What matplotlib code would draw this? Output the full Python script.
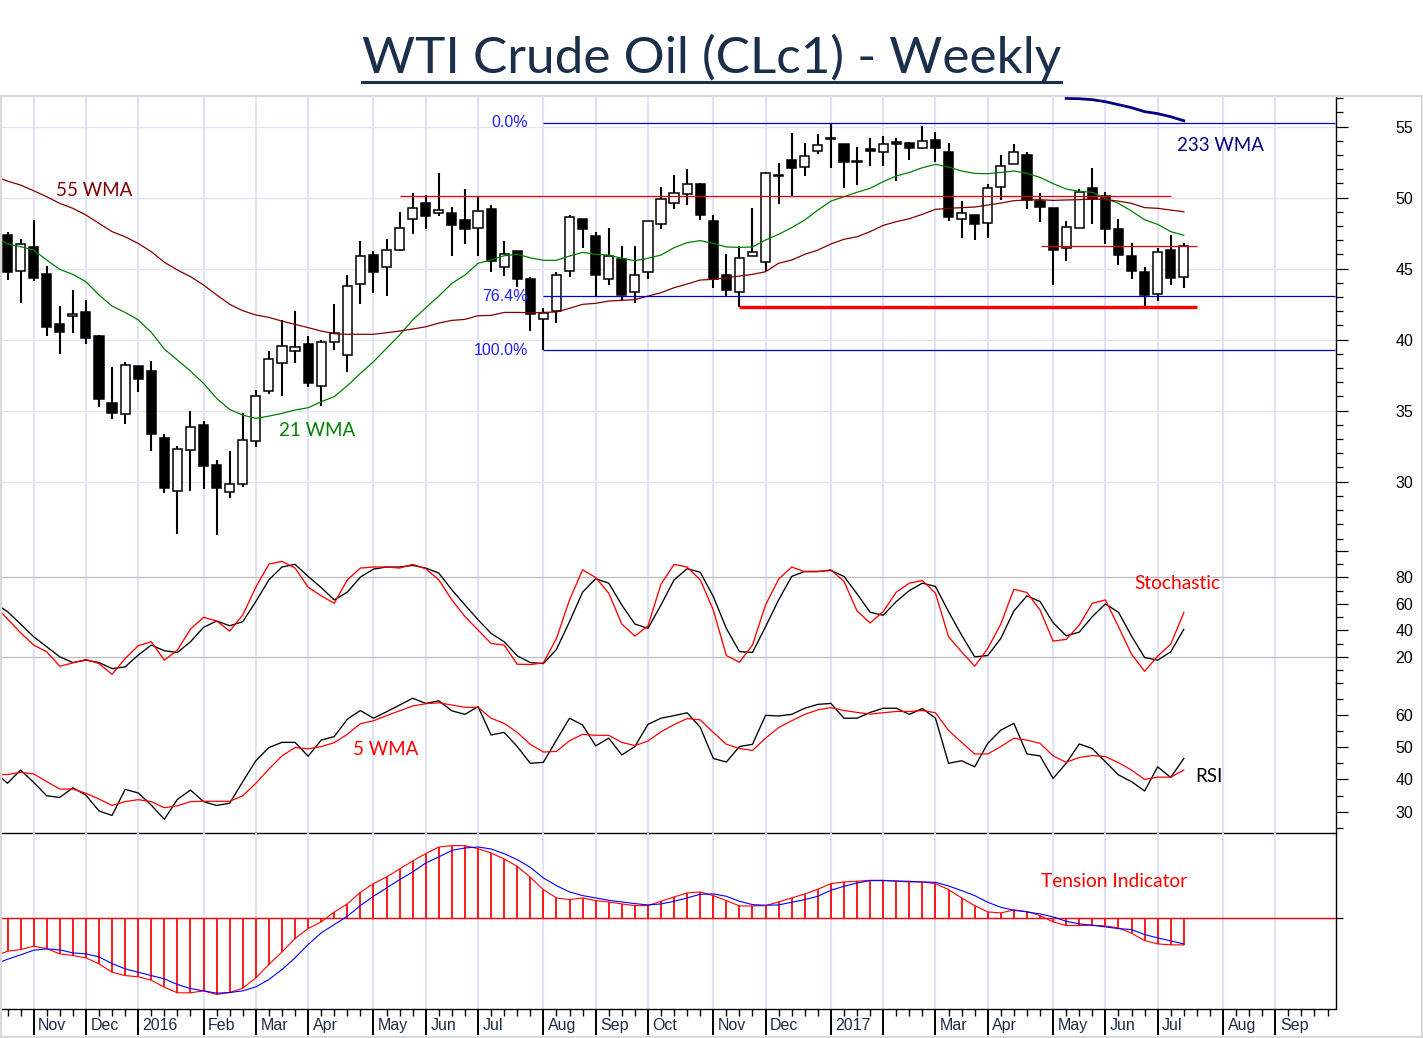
import numpy as np
import matplotlib
matplotlib.use('Agg')
import matplotlib.pyplot as plt
from matplotlib.patches import Rectangle
from matplotlib.lines import Line2D

# candles, one per week
opens = [47.37,44.81,46.50,44.60,41.08,41.64,41.92,40.26,35.52,34.74,38.12,37.79,33.05,29.37,32.21,33.97,31.15,29.25,29.81,32.84,
         36.36,38.33,39.18,39.67,36.71,39.81,38.90,43.90,45.94,45.09,46.29,48.47,49.60,48.94,48.90,48.40,47.84,49.18,45.09,46.22,
         44.27,41.43,42.04,44.81,48.47,47.28,44.25,45.70,43.33,44.74,48.12,49.60,50.28,50.96,48.33,44.53,43.33,45.91,45.45,51.57,
         52.63,52.14,53.26,54.23,53.76,52.56,53.40,53.19,53.94,53.83,53.47,54.04,53.19,48.47,48.76,48.19,50.73,52.35,52.98,49.76,
         49.25,46.43,47.89,50.66,50.09,47.77,45.87,44.74,43.19,46.29,44.44]
highs = [47.56,47.07,48.40,45.16,42.37,43.47,42.77,40.31,38.05,38.40,38.17,38.47,33.33,32.49,34.95,34.25,31.50,32.14,34.81,36.43,
         39.18,41.36,41.99,40.23,39.95,42.49,44.53,46.92,46.22,47.07,48.97,50.31,50.16,51.71,49.32,50.59,50.07,49.46,46.98,46.22,
         44.44,42.21,44.79,48.76,48.47,47.56,47.84,46.57,46.57,48.38,50.73,51.57,51.99,51.01,48.76,46.01,46.57,49.25,51.83,52.42,
         54.53,53.83,54.46,55.26,53.80,53.55,54.18,54.32,54.18,53.94,55.05,54.60,53.83,49.74,48.76,50.94,52.98,53.76,53.19,50.31,
         49.27,48.33,50.59,52.07,50.38,48.47,46.78,45.09,46.43,47.35,46.78]
lows = [44.20,42.61,44.15,40.28,39.01,40.49,39.72,35.28,34.44,34.08,36.34,32.18,29.23,26.34,29.37,29.51,26.27,28.87,29.65,32.47,
        36.20,36.06,38.38,36.69,35.35,39.30,37.75,42.53,43.31,43.10,46.22,47.47,47.82,48.73,45.91,46.76,45.91,44.79,44.51,43.73,
        40.63,39.25,41.20,44.44,46.48,43.05,43.87,42.79,42.61,44.25,47.82,49.23,49.51,48.45,43.66,43.05,42.28,45.91,44.86,49.58,
        50.02,51.55,53.10,52.11,50.70,50.92,52.25,52.25,51.20,52.68,53.40,52.51,48.38,47.18,47.04,47.18,49.86,52.35,49.23,48.31,
        43.87,45.56,47.84,48.17,46.76,45.28,44.30,42.39,42.75,43.87,43.66]
closes = [44.79,46.71,44.37,40.91,40.56,41.78,40.14,35.85,34.86,38.19,37.25,33.38,29.58,32.28,33.83,31.13,29.58,29.81,32.96,36.06,
          38.61,39.53,39.51,36.97,39.81,40.49,43.76,45.91,44.79,46.29,47.84,49.30,48.73,49.16,48.10,47.82,49.04,45.56,46.01,44.30,
          41.78,41.90,44.53,48.62,47.82,44.58,45.91,43.17,44.53,48.33,49.88,50.35,50.94,48.80,44.25,43.52,45.73,46.15,51.71,51.50,
          52.07,52.96,53.73,54.13,52.48,52.48,53.29,53.80,53.80,53.47,54.01,53.47,48.66,48.90,48.12,50.66,52.25,53.19,49.81,49.37,
          46.34,47.91,50.38,49.88,47.82,45.99,44.86,43.17,46.15,44.37,46.57]

# moving averages, first value is one week before the first candle
wma21 = [47.25,46.74,46.55,46.31,45.61,44.95,44.60,44.08,43.15,42.37,41.92,41.39,40.52,39.34,38.57,37.79,36.92,35.87,35.09,34.69,34.46,
         34.62,34.81,35.05,35.21,35.63,35.99,36.76,37.63,38.45,39.39,40.33,41.39,42.25,43.07,43.97,44.55,45.38,45.61,45.91,46.01,
         45.77,45.59,45.59,45.89,46.15,46.01,45.96,45.73,45.56,45.73,45.96,46.48,46.83,46.98,46.78,46.53,46.50,46.53,47.02,47.42,
         47.89,48.43,49.13,49.76,50.07,50.38,50.66,51.13,51.53,51.78,52.11,52.35,52.16,51.88,51.71,51.69,51.78,51.88,51.71,51.43,
         50.99,50.61,50.45,50.38,49.95,49.60,49.06,48.45,48.12,47.61,47.35]
wma55 = [51.48,51.17,50.89,50.49,50.07,49.60,49.25,48.78,48.19,47.61,47.25,46.78,46.20,45.45,44.91,44.44,43.85,43.15,42.49,42.04,41.74,
         41.57,41.31,41.08,40.85,40.61,40.42,40.38,40.38,40.38,40.49,40.61,40.75,40.91,41.17,41.36,41.43,41.69,41.71,41.92,41.92,
         41.90,41.92,41.95,42.21,42.49,42.56,42.72,42.77,42.82,43.07,43.31,43.66,43.92,44.20,44.25,44.37,44.48,44.60,44.79,45.38,
         45.61,46.01,46.31,46.74,47.07,47.25,47.61,48.05,48.31,48.52,48.83,49.18,49.25,49.30,49.34,49.48,49.62,49.79,49.84,49.86,
         49.81,49.84,49.86,49.91,49.86,49.76,49.60,49.30,49.25,49.13,49.01]
wma233_weeks = [81,82,83,84,85,86,87,88,89,90]
wma233 = [56.99,56.97,56.90,56.76,56.55,56.34,56.06,55.92,55.70,55.42]

# stochastic
stoch_red = [59.2,48.6,38.2,28.9,23.8,12.9,15.4,18.0,14.9,6.8,18.7,28.4,31.4,17.5,25.1,41.0,49.9,47.1,39.5,51.6,72.7,
             90.1,92.2,87.1,72.7,66.1,60.5,78.2,87.1,87.9,87.9,87.1,89.9,86.6,78.2,63.0,50.4,40.3,30.1,28.9,14.4,
             14.2,15.4,33.9,63.0,85.8,80.0,68.1,44.8,35.7,43.3,74.9,89.9,87.9,78.2,55.4,21.0,15.9,28.9,59.2,78.7,
             87.9,84.3,84.3,85.8,77.0,54.7,45.6,54.2,68.9,75.7,77.7,68.1,35.2,23.8,12.9,26.3,44.8,71.1,68.6,55.4,
             31.9,33.2,44.0,60.5,63.0,42.8,22.0,9.1,20.5,29.6,53.4]
stoch_black = [60.5,54.2,44.8,35.2,27.6,20.0,15.7,17.5,15.7,11.1,12.4,21.3,28.9,24.6,23.3,31.4,42.3,47.1,43.5,46.6,61.8,
               78.2,87.9,89.9,80.8,72.4,63.0,68.9,80.3,86.3,87.9,87.9,89.1,87.1,83.3,70.6,59.2,48.1,37.7,31.4,20.8,
               15.7,14.9,25.6,46.6,68.9,79.0,75.7,59.2,44.8,41.5,59.2,78.2,86.6,84.0,65.6,41.5,24.0,23.3,42.8,63.0,
               80.8,84.6,84.6,85.3,80.8,67.6,53.7,51.4,61.8,70.1,75.7,73.2,54.2,36.4,20.0,21.0,33.9,54.7,66.1,61.8,
               45.8,35.9,38.7,50.4,60.0,53.7,35.7,19.5,17.5,23.8,40.8]

# RSI and its 5 WMA
rsi = [42.4,38.8,42.9,39.1,34.9,34.4,37.4,35.1,30.2,28.8,36.9,35.8,32.0,27.6,33.8,36.7,33.1,31.9,32.6,39.3,45.8,
       49.9,51.5,51.5,47.2,52.2,53.3,58.7,61.4,59.0,61.0,63.1,65.2,63.6,64.4,61.3,60.2,62.6,53.8,54.6,50.2,
       45.0,45.3,52.2,59.0,56.9,50.4,52.8,47.6,50.2,57.1,59.0,59.8,60.7,56.2,46.5,45.4,50.2,50.9,59.9,59.7,
       60.2,62.1,63.3,63.6,59.0,59.0,60.8,62.1,62.1,60.2,62.0,59.0,45.0,45.8,43.9,51.2,55.3,57.4,47.9,47.3,
       40.3,45.0,51.0,49.6,45.5,41.4,39.3,36.4,43.9,40.6,46.5]
rsi_wma5 = [41.5,41.5,42.2,41.7,39.3,37.0,37.0,35.7,33.9,31.9,33.1,33.7,33.1,31.2,31.8,33.1,33.2,33.2,33.2,34.9,38.8,
            43.2,47.3,49.9,49.5,50.2,51.4,54.0,57.3,58.2,59.8,61.3,62.8,63.5,63.8,63.1,62.4,62.4,59.0,57.4,54.6,
            50.9,48.5,48.7,52.0,54.0,53.7,53.7,51.5,50.5,51.9,54.8,57.0,58.9,58.5,54.6,50.9,49.6,49.0,52.8,56.1,
            58.2,60.2,61.6,62.3,61.4,60.8,60.3,60.7,61.1,61.1,61.4,60.7,55.2,51.5,47.9,47.9,50.2,52.8,52.2,51.2,
            47.3,45.3,46.8,47.4,47.1,45.2,42.9,40.0,40.7,40.7,42.9]

# tension indicator (no scale on the chart, arbitrary units)
tension = [-115,-100,-95,-85,-92,-108,-113,-120,-138,-163,-173,-177,-187,-208,-225,-225,-219,-230,-224,-211,-180,
           -140,-102,-62,-32,-12,18,42,77,103,123,147,171,193,213,217,217,208,195,177,155,
           122,85,60,55,60,52,48,42,37,37,50,63,75,78,67,52,36,36,37,48,
           60,72,86,103,108,110,113,113,110,108,108,103,85,60,37,18,15,24,19,7,
           -12,-23,-23,-22,-24,-30,-46,-68,-78,-81,-81]
tension_signal = [-140,-124,-111,-97,-93,-96,-105,-108,-117,-137,-153,-163,-173,-183,-200,-212,-219,-226,-224,-219,-207,
                  -185,-155,-120,-80,-45,-20,5,37,65,90,115,138,165,183,203,210,213,207,193,175,
                  152,120,97,78,67,60,53,48,43,39,42,50,60,71,72,65,50,40,38,39,
                  47,55,65,83,95,105,112,112,111,110,108,107,96,82,67,47,32,23,18,12,
                  3,-10,-18,-22,-27,-32,-35,-50,-60,-69,-78]

# month labels on the week axis
month_weeks = [2,6,10,15,19,23,28,32,36,41,45,49,54,58,63,67,71,75,80,84,88,93,97]
month_labels = ['Nov','Dec','2016','Feb','Mar','Apr','May','Jun','Jul','Aug','Sep','Oct','Nov','Dec','2017','','Mar','Apr','May','Jun','Jul','Aug','Sep']

# drawn levels
fib_levels = [55.28, 43.05, 39.25]
fib_labels = ['0.0%', '76.4%', '100.0%']

W, H = 1423, 1038
GRID = '#e2e2f6'
TICK_FONT = 'Liberation Sans'
NOTE_FONT = 'Lato'

weeks = np.arange(len(opens))
line_weeks = np.arange(-1, len(opens))
xmin = (2 - 7.5) / 13.07
xmax = (1335.5 - 7.5) / 13.07


def pane(top, bottom):
    ax = fig.add_axes([2 / W, 1 - bottom / H, 1333.5 / W, (bottom - top) / H])
    ax.patch.set_visible(False)
    ax.set_xlim(xmin, xmax)
    for s in ['left', 'top', 'bottom']:
        ax.spines[s].set_visible(False)
    ax.spines['right'].set_linewidth(1.0)
    ax.set_xticks([])
    ax.yaxis.tick_right()
    for w in month_weeks:
        ax.axvline(w, color=GRID, lw=1.5, zorder=0)
    return ax


def right_ticks(ax, major, labels, minor):
    ax.set_yticks(major)
    ax.set_yticklabels(labels, fontfamily=TICK_FONT, fontsize=11.5, ha='center')
    ax.set_yticks(minor, minor=True)
    ax.tick_params(axis='y', which='major', direction='out', length=8.6, width=0.9, pad=41)
    ax.tick_params(axis='y', which='minor', direction='out', length=5, width=0.9)


fig = plt.figure(figsize=(W / 100, H / 100), dpi=100, facecolor='white')

# outer frame and title
fig.add_artist(Rectangle((1 / W, 1 - 1037 / H), 1421 / W, 941 / H, fill=False, edgecolor='#d9d9d9', lw=1.6,
                         transform=fig.transFigure))
fig.text(711.5 / W, 1 - 72.5 / H, 'WTI Crude Oil (CLc1) - Weekly', family=NOTE_FONT, fontsize=36.9, color='#1b2f4b',
         ha='center', va='baseline')
fig.add_artist(Line2D([362 / W, 1061 / W], [1 - 81.5 / H] * 2, color='#1b2f4b', lw=2.2, transform=fig.transFigure))

# price pane
ax1 = pane(97, 551)
ax1.set_ylim(25.12, 57.09)
for p in [30, 35, 40, 45, 50, 55]:
    ax1.axhline(p, color=GRID, lw=0.9, zorder=0)
right_ticks(ax1, [30, 35, 40, 45, 50, 55], ['30', '35', '40', '45', '50', '55'],
            [p for p in range(26, 58) if p % 5 != 0])

ax1.vlines(weeks, lows, highs, color='black', lw=1.5, zorder=2)
for w, o, c in zip(weeks, opens, closes):
    face = 'white' if c >= o else 'black'
    ax1.bar(w, abs(c - o), bottom=min(o, c), width=0.7, facecolor=face, edgecolor='black', lw=1.1, zorder=3)

ax1.plot(line_weeks, wma21, color='#008000', lw=0.9, zorder=4)
ax1.plot(line_weeks, wma55, color='#800000', lw=0.9, zorder=4)
ax1.plot(wma233_weeks, wma233, color='#000080', lw=2.0, zorder=4)

for level in fib_levels:
    ax1.hlines(level, 41, xmax, color='#0000d0', lw=0.9, zorder=5)
ax1.hlines(50.09, 30, 89, color='#e00000', lw=0.9, zorder=5)
ax1.hlines(46.57, 79.1, 91, color='#e00000', lw=0.9, zorder=5)
ax1.hlines(42.28, 56, 91, color='#ff0000', lw=2.4, zorder=5)

for level, label in zip(fib_levels, fib_labels):
    ax1.text(39.8, level, label, family=TICK_FONT, fontsize=11.5, color='#2020ff', ha='right', va='center', zorder=6)

ax1.text(3.7, 50.54, '55 WMA', family=NOTE_FONT, fontsize=13.5, color='#800000', va='center')
ax1.text(20.8, 33.62, '21 WMA', family=NOTE_FONT, fontsize=13.5, color='#008000', va='center')
ax1.text(89.5, 53.7, '233 WMA', family=NOTE_FONT, fontsize=13.5, color='#000080', va='center')

# stochastic pane
ax2 = pane(551, 683.3)
ax2.set_ylim(0, 100)
for v in [20, 80]:
    ax2.axhline(v, color='#bcbcbc', lw=0.9, zorder=1)
right_ticks(ax2, [20, 40, 60, 80, 100], ['20', '40', '60', '80', ''], [0, 10, 30, 50, 70, 90])
ax2.plot(line_weeks, stoch_black, color='black', lw=0.95, zorder=3)
ax2.plot(line_weeks, stoch_red, color='#ff0000', lw=0.95, zorder=4)
ax2.text(86.2, 75.2, 'Stochastic', family=NOTE_FONT, fontsize=13.8, color='#ff0000', va='center')

# RSI pane
ax3 = pane(683.3, 833)
ax3.set_ylim(60 - (833 - 715) / 3.22, 60 + (715 - 683.3) / 3.22)
right_ticks(ax3, [30, 40, 50, 60], ['30', '40', '50', '60'], [25, 35, 45, 55, 65])
ax3.plot(line_weeks, rsi, color='black', lw=0.95, zorder=3)
ax3.plot(line_weeks, rsi_wma5, color='#ff0000', lw=0.9, zorder=4)
ax3.text(26.4, 49.4, '5 WMA', family=NOTE_FONT, fontsize=13.5, color='#ff0000', va='center')
ax3.text(90.85, 41, 'RSI', family=NOTE_FONT, fontsize=13.5, color='black', va='center')
ax3.spines['bottom'].set_visible(True)
ax3.spines['bottom'].set_linewidth(1.0)

# tension pane
ax4 = pane(833, 1008.5)
ax4.set_ylim(-272, 255)
ax4.axhline(0, color='#ff0000', lw=1.0, zorder=3)
ax4.set_yticks([0])
ax4.set_yticklabels([''])
ax4.tick_params(axis='y', which='major', direction='out', length=5, width=0.9)
ax4.vlines(weeks, 0, tension[1:], color='#ff0000', lw=1.25, zorder=3)
ax4.plot(line_weeks, tension, color='#ff0000', lw=0.8, zorder=4)
ax4.plot(line_weeks, tension_signal, color='#0000ff', lw=0.8, zorder=4)
ax4.text(79.1, 110, 'Tension Indicator', family=NOTE_FONT, fontsize=13.8, color='#ff0000', va='center')

ax4.spines['bottom'].set_visible(True)
ax4.spines['bottom'].set_linewidth(1.0)
ax4.set_xticks(month_weeks)
ax4.set_xticklabels([''] * len(month_weeks))
ax4.set_xticks([w for w in range(0, 102) if w not in month_weeks], minor=True)
ax4.tick_params(axis='x', which='major', direction='out', length=19, width=1.4)
ax4.tick_params(axis='x', which='minor', direction='out', length=5, width=1.0)
for w, label in zip(month_weeks, month_labels):
    fig.text((7.5 + 13.07 * w + 4.5) / W, 1 - 1025.5 / H, label, family=TICK_FONT, fontsize=11.5, color='#1c2b45',
             ha='left', va='center')

fig.savefig('out.png', dpi=100, facecolor='white')
